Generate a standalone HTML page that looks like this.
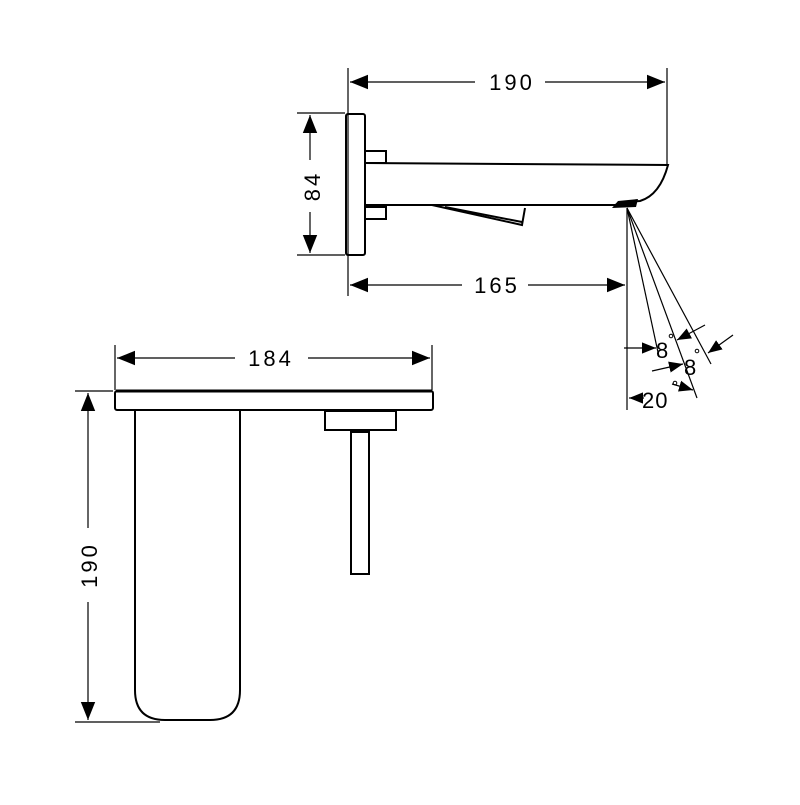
<!DOCTYPE html>
<html><head><meta charset="utf-8"><style>html,body{margin:0;padding:0;background:#fff}</style></head>
<body>
<svg width="800" height="800" viewBox="0 0 800 800" xmlns="http://www.w3.org/2000/svg" font-family="Liberation Sans, sans-serif">
<defs>
<marker id="a" viewBox="0 0 10 10" refX="10" refY="5" markerWidth="18" markerHeight="18" markerUnits="userSpaceOnUse" orient="auto-start-reverse"><path d="M0,1 L10,5 L0,9 Z" fill="#000"/></marker>
<marker id="b" viewBox="0 0 10 10" refX="10" refY="5" markerWidth="14" markerHeight="14" markerUnits="userSpaceOnUse" orient="auto-start-reverse"><path d="M0,1 L10,5 L0,9 Z" fill="#000"/></marker>
</defs>
<g stroke="#000" fill="none" stroke-width="1.2">
<line x1="348" y1="68" x2="348" y2="296"/>
<line x1="667" y1="68" x2="667" y2="165"/>
<line x1="350" y1="82" x2="475" y2="82" marker-start="url(#a)"/>
<line x1="545" y1="82" x2="665" y2="82" marker-end="url(#a)"/>
<line x1="350" y1="285" x2="462" y2="285" marker-start="url(#a)"/>
<line x1="528" y1="285" x2="625" y2="285" marker-end="url(#a)"/>
<line x1="297" y1="113" x2="345" y2="113"/>
<line x1="297" y1="255" x2="345" y2="255"/>
<line x1="310" y1="115" x2="310" y2="160" marker-start="url(#a)"/>
<line x1="310" y1="212" x2="310" y2="253" marker-end="url(#a)"/>
</g>
<g stroke="#000" fill="none" stroke-width="2">
<rect x="346" y="114" width="19" height="141" rx="2"/>
<rect x="365" y="151" width="21" height="12"/>
<rect x="365" y="207" width="21" height="12"/>
<path d="M365,163 L668,165 Q660,195 640,201 L627,202 L615,205 L365,205"/>
<path d="M432,205 L522,225 L525,208"/>
<path d="M445,207 L522,222"/>
</g>
<path d="M612,208 L618,201 L638,199 L636,207 Z" fill="#000"/>
<g stroke="#000" fill="none" stroke-width="1.2">
<line x1="627" y1="208" x2="627" y2="410"/>
<line x1="627" y1="208" x2="659" y2="357"/>
<line x1="627" y1="208" x2="697" y2="398"/>
<line x1="627" y1="208" x2="711" y2="364"/>
<line x1="624" y1="348" x2="656" y2="348" marker-end="url(#b)"/>
<line x1="705" y1="325" x2="677" y2="340" marker-end="url(#b)"/>
<line x1="733" y1="335" x2="708" y2="353" marker-end="url(#b)"/>
<line x1="652" y1="371" x2="683" y2="364" marker-end="url(#b)"/>
<line x1="672" y1="384" x2="693" y2="390" marker-end="url(#b)"/>
<line x1="644" y1="398" x2="629" y2="398" marker-end="url(#b)"/>
</g>
<g stroke="#000" fill="none" stroke-width="1.2">
<line x1="115" y1="345" x2="115" y2="390"/>
<line x1="432" y1="345" x2="432" y2="390"/>
<line x1="117" y1="358" x2="235" y2="358" marker-start="url(#a)"/>
<line x1="308" y1="358" x2="430" y2="358" marker-end="url(#a)"/>
<line x1="75" y1="391" x2="113" y2="391"/>
<line x1="75" y1="722" x2="160" y2="722"/>
<line x1="88" y1="393" x2="88" y2="528" marker-start="url(#a)"/>
<line x1="88" y1="602" x2="88" y2="720" marker-end="url(#a)"/>
</g>
<g stroke="#000" fill="none" stroke-width="2">
<rect x="115" y="391" width="318" height="19" rx="2"/>
<line x1="116" y1="391" x2="432" y2="391" stroke-width="3"/>
<path d="M135,410 L135,690 Q135,720 165,720 L210,720 Q240,720 240,690 L240,410"/>
<rect x="325" y="411" width="71" height="19"/>
<rect x="351" y="432" width="18" height="142"/>
</g>
<g font-size="22" fill="#000" text-anchor="middle" letter-spacing="3">
<text x="512" y="90">190</text>
<text x="497" y="293">165</text>
<text x="271" y="366">184</text>
<text transform="translate(320,186) rotate(-90)">84</text>
<text transform="translate(97,565) rotate(-90)">190</text>
</g>
<g font-size="22" fill="#000" letter-spacing="1">
<text x="656" y="358">8</text>
<text x="684" y="375">8</text>
<text x="642" y="408">20</text>
</g>
<g stroke="#000" fill="none" stroke-width="1">
<circle cx="671" cy="336" r="1.8"/>
<circle cx="697" cy="351" r="1.8"/>
<circle cx="675" cy="383" r="1.8"/>
</g>
</svg>
</body></html>
